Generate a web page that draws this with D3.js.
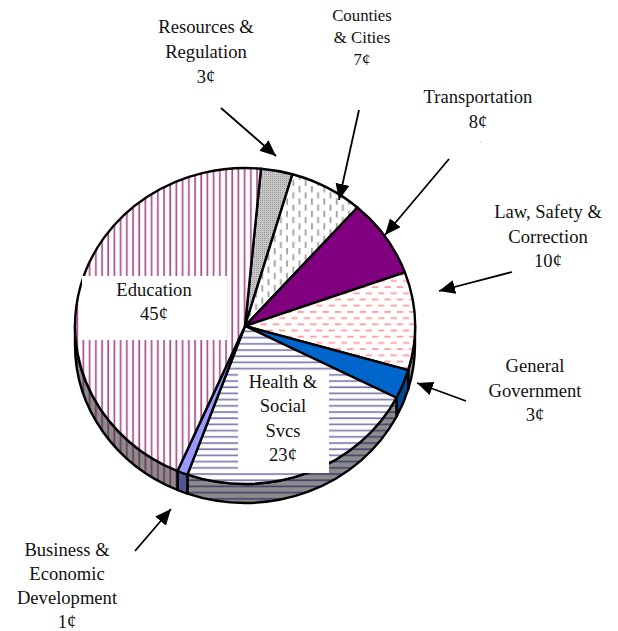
<!DOCTYPE html>
<html>
<head>
<meta charset="utf-8">
<script src="https://cdn.jsdelivr.net/npm/d3@7"></script>
<style>
  body { margin: 0; background: white; }
  text { font-family: "Liberation Serif", serif; fill: #111; text-anchor: middle; }
</style>
</head>
<body>
<script>
// budget pie, clockwise starting from Resources & Regulation
var slices = ['Resources', 'Counties', 'Transportation', 'Law', 'General', 'Health', 'Business', 'Education'];
var cents = [3, 7, 8, 10, 3, 23, 1, 45];
var topFills = ['url(#dots)', 'url(#vdash)', '#800080', 'url(#hdash)', '#0066cc', 'url(#hlines)', '#9999ff', 'url(#vlines)'];
var sideFills = ['#808080', '#808080', '#400040', '#8c8c8c', '#004a94', 'url(#hlinesDark)', '#55558c', 'url(#vlinesDark)'];

var labelLines = [
  ['Resources &', 'Regulation', '3¢'],
  ['Counties', '& Cities', '7¢'],
  ['Transportation', '8¢'],
  ['Law, Safety &', 'Correction', '10¢'],
  ['General', 'Government', '3¢'],
  ['Health &', 'Social', 'Svcs', '23¢'],
  ['Business &', 'Economic', 'Development', '1¢'],
  ['Education', '45¢']
];
var labelX = [206, 362, 478, 548, 535, 283, 67, 154];
var labelY = [33, 21, 103, 218, 372, 388, 556, 296];
var labelStep = [25, 22, 25, 24.5, 24.5, 24.3, 24, 24];
var labelSize = [18.6, 16.8, 18.6, 18.6, 18.6, 18.6, 18.6, 18.6];

// [x1, y1, tipX, tipY]
var arrows = [
  [221, 108, 276, 156],
  [359, 110, 339, 200],
  [449, 159, 385, 235],
  [512, 272, 439, 291],
  [466, 401, 417, 383],
  [135, 551, 171, 509]
];

// white boxes behind the two labels sitting on the pie
var boxes = [
  [82, 276, 145, 64],
  [238, 372, 91, 101]
];

var cx = 245, cy = 326, rx = 170, ry = 158, depth = 19;
var rad = Math.PI / 180;

var svg = d3.select('body').append('svg')
  .attr('width', 618)
  .attr('height', 631)
  .style('display', 'block');

var defs = svg.append('defs');

function makePattern(id, w, h, bg) {
  var p = defs.append('pattern')
    .attr('id', id)
    .attr('patternUnits', 'userSpaceOnUse')
    .attr('width', w)
    .attr('height', h);
  p.append('rect').attr('width', w).attr('height', h).attr('fill', bg);
  return p;
}

var vl = makePattern('vlines', 6.2, 6.2, 'white');
vl.append('rect').attr('x', 2).attr('width', 1.7).attr('height', 6.2).attr('fill', '#a8508a');
var vld = makePattern('vlinesDark', 6.2, 6.2, '#8c8c8c');
vld.append('rect').attr('x', 2).attr('width', 1.7).attr('height', 6.2).attr('fill', '#6e3a5c');

var hl = makePattern('hlines', 6.2, 6.2, 'white');
hl.append('rect').attr('y', 2).attr('width', 6.2).attr('height', 1.7).attr('fill', '#7c7cb0');
var hld = makePattern('hlinesDark', 6.2, 6.2, '#8c8c8c');
hld.append('rect').attr('y', 2).attr('width', 6.2).attr('height', 1.7).attr('fill', '#45456e');

var hd = makePattern('hdash', 12.4, 12.4, 'white');
hd.append('rect').attr('x', 0).attr('y', 1).attr('width', 6.4).attr('height', 1.8).attr('fill', '#ff9c9c');
hd.append('rect').attr('x', 6.2).attr('y', 7.2).attr('width', 6.2).attr('height', 1.8).attr('fill', '#ff9c9c');

var vd = makePattern('vdash', 12.4, 12.4, 'white');
vd.append('rect').attr('x', 1).attr('y', 0).attr('width', 1.8).attr('height', 6.4).attr('fill', '#a0a0a0');
vd.append('rect').attr('x', 7.2).attr('y', 6.2).attr('width', 1.8).attr('height', 6.2).attr('fill', '#a0a0a0');

var dt = makePattern('dots', 2, 2, '#c8c8c8');
dt.append('rect').attr('width', 1).attr('height', 1).attr('fill', '#999');

var head = defs.append('marker')
  .attr('id', 'head')
  .attr('markerUnits', 'userSpaceOnUse')
  .attr('viewBox', '0 0 16 14')
  .attr('refX', 16)
  .attr('refY', 7)
  .attr('markerWidth', 16)
  .attr('markerHeight', 14)
  .attr('orient', 'auto');
head.append('path').attr('d', 'M0,0L16,7L0,14Z').attr('fill', 'black');

// angles from the library, 5.4 deg past twelve o'clock
var pie = d3.pie()
  .sort(null)
  .startAngle(5.4 * rad)
  .endAngle(365.4 * rad);
var arcs = pie(cents);

function px(a) { return cx + rx * Math.sin(a); }
function py(a) { return cy - ry * Math.cos(a); }

function topPath(d) {
  var big = d.endAngle - d.startAngle > Math.PI ? 1 : 0;
  return 'M' + cx + ',' + cy + 'L' + px(d.startAngle) + ',' + py(d.startAngle) +
    'A' + rx + ',' + ry + ' 0 ' + big + ' 1 ' + px(d.endAngle) + ',' + py(d.endAngle) + 'Z';
}

function sidePath(d) {
  var a0 = Math.max(d.startAngle, 90 * rad);
  var a1 = Math.min(d.endAngle, 270 * rad);
  if (a0 >= a1) return null;
  return 'M' + px(a0) + ',' + py(a0) +
    'A' + rx + ',' + ry + ' 0 0 1 ' + px(a1) + ',' + py(a1) +
    'L' + px(a1) + ',' + (py(a1) + depth) +
    'A' + rx + ',' + ry + ' 0 0 0 ' + px(a0) + ',' + (py(a0) + depth) + 'Z';
}

svg.append('g').selectAll('path')
  .data(arcs.filter(function(d) { return sidePath(d); }))
  .enter().append('path')
  .attr('d', sidePath)
  .attr('fill', function(d) { return sideFills[d.index]; })
  .attr('stroke', 'black')
  .attr('stroke-width', 2.4)
  .attr('stroke-linejoin', 'round');

svg.append('g').selectAll('path')
  .data(arcs)
  .enter().append('path')
  .attr('d', topPath)
  .attr('fill', function(d) { return topFills[d.index]; })
  .attr('stroke', 'black')
  .attr('stroke-width', 2.4)
  .attr('stroke-linejoin', 'round');

svg.append('g').selectAll('rect')
  .data(boxes)
  .enter().append('rect')
  .attr('x', function(b) { return b[0]; })
  .attr('y', function(b) { return b[1]; })
  .attr('width', function(b) { return b[2]; })
  .attr('height', function(b) { return b[3]; })
  .attr('fill', 'white');

svg.append('g').selectAll('line')
  .data(arrows)
  .enter().append('line')
  .attr('x1', function(a) { return a[0]; })
  .attr('y1', function(a) { return a[1]; })
  .attr('x2', function(a) { return a[2]; })
  .attr('y2', function(a) { return a[3]; })
  .attr('stroke', 'black')
  .attr('stroke-width', 1.8)
  .attr('marker-end', 'url(#head)');

// stray speck under the 8¢ label
svg.append('circle').attr('cx', 481).attr('cy', 142).attr('r', 0.5).attr('fill', '#888');

var labels = svg.append('g').selectAll('text')
  .data(labelLines)
  .enter().append('text')
  .attr('font-size', function(d, i) { return labelSize[i]; });

labels.each(function(lines, i) {
  d3.select(this).selectAll('tspan')
    .data(lines)
    .enter().append('tspan')
    .attr('x', labelX[i])
    .attr('y', function(l, j) { return labelY[i] + j * labelStep[i]; })
    .text(function(l) { return l; });
});
</script>
</body>
</html>
